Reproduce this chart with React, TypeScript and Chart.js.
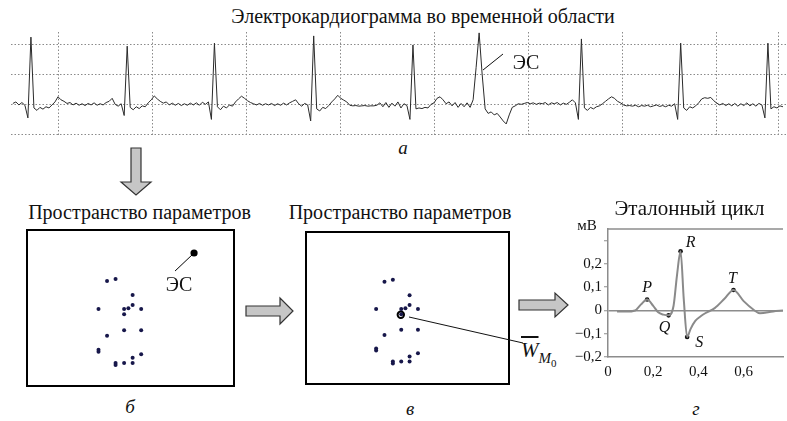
import React, { useEffect, useRef } from "react";
import { Chart, registerables } from "chart.js";

Chart.register(...registerables);

const SERIF = "'Liberation Serif', 'DejaVu Serif', 'Noto Serif', 'Times New Roman', serif";

// ---- Panel а: ECG in the time domain ----
const ecgStartMs = -96;
const ecgStepMs = 6.4;
const ecgValues = [
  0.03, 0.08, -0.02, 0.06, -0.03, -0.45, 2.23, -0.12, -0.2, -0.1,
  -0.16, -0.08, -0.12, -0.02, 0.08, 0.25, 0.15, 0.1, 0.03, 0.06,
  -0.02, 0.04, -0.03, 0.02, -0.04, 0.03, -0.02, 0.05, -0.03, 0.02,
  -0.02, 0.06, 0.1, 0.2, 0.0, -0.06, 0.02, -0.37, 1.93, -0.1,
  -0.18, -0.08, -0.14, -0.05, -0.08, 0.05, 0.15, 0.28, 0.18, 0.1,
  0.04, 0.08, -0.02, 0.04, -0.03, 0.03, -0.04, 0.02, -0.03, 0.04,
  -0.02, 0.05, -0.03, 0.07, 0.0, 0.08, -0.5, 2.03, -0.08, -0.18,
  -0.06, -0.12, -0.02, -0.06, 0.08, 0.18, 0.27, 0.2, 0.12, 0.06,
  0.02, -0.02, 0.03, -0.03, 0.02, -0.02, 0.03, -0.04, 0.02, -0.03,
  0.04, -0.02, 0.05, 0.1, 0.15, 0.02, -0.06, 0.03, -0.02, -0.55,
  2.27, -0.15, -0.22, -0.1, -0.14, -0.04, 0.08, 0.18, 0.3, 0.2,
  0.14, 0.08, -0.03, -0.05, -0.04, -0.06, -0.05, -0.04, -0.06, -0.05,
  -0.05, -0.03, 0.05, -0.08, 0.06, -0.1, 0.04, -0.06, 0.08, -0.12,
  0.02, -0.04, -0.5, 1.97, -0.15, -0.12, -0.14, -0.1, -0.12, 0.0,
  0.05, 0.2, 0.25, 0.15, 0.02, 0.08, -0.05, 0.06, -0.1, 0.03,
  -0.08, 0.05, -0.1, 0.15, 1.23, 2.37, 1.0, -0.15, -0.3, -0.25,
  -0.35, -0.3, -0.42, -0.55, -0.65, -0.35, -0.1, -0.05, 0.02, 0.0,
  0.03, 0.06, 0.02, 0.05, 0.0, 0.04, 0.02, 0.06, -0.02, 0.05,
  0.02, 0.06, -0.02, 0.04, 0.0, 0.07, 0.15, 0.05, -0.5, 2.17,
  -0.12, -0.2, -0.1, -0.15, -0.08, -0.05, 0.02, 0.1, 0.18, 0.25,
  0.2, 0.1, 0.05, -0.02, -0.05, -0.04, -0.06, -0.03, -0.08, -0.04,
  -0.06, -0.03, -0.08, -0.05, -0.02, -0.07, -0.04, -0.08, -0.03, -0.06,
  0.02, -0.5, 2.03, -0.12, -0.2, -0.08, -0.12, -0.05, 0.05, 0.18,
  0.22, 0.2, 0.23, 0.12, 0.04, -0.02, 0.03, -0.04, 0.02, -0.05,
  0.03, -0.06, 0.02, -0.04, 0.05, -0.05, 0.02, -0.06, 0.03, -0.02,
  -0.45, 2.03, -0.15, -0.08, -0.12, -0.05, -0.08,
];
const ecgGridMs = [0, 200, 400, 600, 800, 1000, 1200, 1400, 1532];
const ecgGridMv = [-1, 0, 1, 2];

// ---- Panels б, в: parameter space ----
const cycleParamX = [2, 3, 5, 1, 4, 4.5, 5, 6, 4, 4, 6, 2, 1, 1, 6, 5, 5, 4, 3, 3];
const cycleParamY = [15.9, 16.2, 13.8, 11.7, 11.7, 11.8, 12.3, 11.7, 10.9, 8.5, 8.5, 7.7, 5.6, 5.3, 4.9, 4.4, 3.6, 3.6, 3.6, 3.3];
const esParamX = [12.2];
const esParamY = [20.1];
const centroidParamX = [3.95];
const centroidParamY = [10.8];

// ---- Panel г: reference cycle ----
const refTime = [0.04, 0.08, 0.12, 0.145, 0.173, 0.2, 0.222, 0.245, 0.268, 0.29, 0.305, 0.321, 0.335, 0.35, 0.365, 0.386, 0.41, 0.43, 0.472, 0.515, 0.555, 0.6, 0.644, 0.672, 0.73, 0.774];
const refValue = [-0.005, -0.005, 0.0, 0.025, 0.047, 0.02, -0.008, -0.018, -0.021, 0.02, 0.15, 0.254, 0.05, -0.114, -0.08, -0.045, -0.025, -0.012, 0.01, 0.05, 0.088, 0.04, 0.003, -0.012, -0.004, 0.0];
const waveNames = ["P", "Q", "R", "S", "T"];
const waveTime = [0.173, 0.268, 0.321, 0.35, 0.555];
const waveValue = [0.047, -0.021, 0.254, -0.114, 0.088];
const refXTicks = [0, 0.2, 0.4, 0.6];
const refXLabels = ["0", "0,2", "0,4", "0,6"];
const refYTicks = [-0.2, -0.1, 0, 0.1, 0.2, 0.3];
const refYLabels = ["\u22120,2", "\u22120,1", "0", "0,1", "0,2", ""];

const toPoints = (xs: number[], ys: number[]) => xs.map((x, i) => ({ x, y: ys[i] }));

function makeParamChart(canvas: HTMLCanvasElement, withEs: boolean) {
  const datasets: any[] = [
    {
      data: toPoints(cycleParamX, cycleParamY),
      pointRadius: 2,
      pointBackgroundColor: "#17174a",
      pointBorderWidth: 0,
      showLine: false,
    },
  ];
  if (withEs) {
    datasets.push({
      data: toPoints(esParamX, esParamY),
      pointRadius: 3.6,
      pointBackgroundColor: "#000",
      pointBorderWidth: 0,
      showLine: false,
    });
  } else {
    datasets.push({
      data: toPoints(centroidParamX, centroidParamY),
      pointRadius: 3.2,
      pointBackgroundColor: "#fff",
      pointBorderColor: "#000",
      pointBorderWidth: 2,
      showLine: false,
    });
  }
  const framePlugin = {
    id: "frame",
    afterDraw(chart: any) {
      const { ctx, chartArea } = chart;
      ctx.save();
      ctx.strokeStyle = "#000";
      ctx.lineWidth = 2;
      ctx.strokeRect(chartArea.left + 1, chartArea.top + 1, chartArea.width - 2, chartArea.height - 2);
      if (withEs) {
        const p = chart.getDatasetMeta(1).data[0];
        ctx.lineWidth = 1;
        ctx.beginPath();
        ctx.moveTo(p.x, p.y);
        ctx.lineTo(p.x - 19, p.y + 18);
        ctx.stroke();
        ctx.fillStyle = "#111";
        ctx.font = `20px ${SERIF}`;
        ctx.textAlign = "center";
        ctx.textBaseline = "middle";
        ctx.fillText("ЭС", p.x - 15, p.y + 33);
      }
      ctx.restore();
    },
  };
  return new Chart(canvas, {
    type: "scatter",
    data: { datasets },
    options: {
      animation: false,
      responsive: false,
      maintainAspectRatio: false,
      layout: { padding: 0 },
      plugins: { legend: { display: false }, tooltip: { enabled: false } },
      scales: {
        x: { type: "linear", min: -7.5, max: 17, display: false },
        y: { type: "linear", min: 0, max: 23.7, display: false },
      },
    },
    plugins: [framePlugin],
  } as any);
}

export default function App() {
  const ecgRef = useRef<HTMLCanvasElement>(null);
  const bRef = useRef<HTMLCanvasElement>(null);
  const vRef = useRef<HTMLCanvasElement>(null);
  const gRef = useRef<HTMLCanvasElement>(null);

  useEffect(() => {
    const charts: Chart[] = [];

    charts.push(
      new Chart(ecgRef.current!, {
        type: "line",
        data: {
          datasets: [
            {
              data: ecgValues.map((v, i) => ({ x: ecgStartMs + i * ecgStepMs, y: v })),
              borderColor: "#2a2a2a",
              borderWidth: 1,
              pointRadius: 0,
              tension: 0,
            },
          ],
        },
        options: {
          animation: false,
          responsive: false,
          maintainAspectRatio: false,
          layout: { padding: 0 },
          plugins: { legend: { display: false }, tooltip: { enabled: false } },
          scales: {
            x: {
              type: "linear",
              min: -100,
              max: 1551,
              afterBuildTicks: (s: any) => {
                s.ticks = ecgGridMs.map((value) => ({ value }));
              },
              ticks: { display: false },
              grid: { drawTicks: false, color: "#8a8a8a", lineWidth: 1 },
              border: { display: false, dash: [1.5, 2] },
            },
            y: {
              type: "linear",
              min: -1.05,
              max: 2.4,
              afterBuildTicks: (s: any) => {
                s.ticks = ecgGridMv.map((value) => ({ value }));
              },
              ticks: { display: false },
              grid: { drawTicks: false, color: "#8a8a8a", lineWidth: 1 },
              border: { display: false, dash: [1.5, 2] },
            },
          },
        },
      } as any)
    );

    charts.push(makeParamChart(bRef.current!, true));
    charts.push(makeParamChart(vRef.current!, false));

    const labelOffsets: Record<string, [number, number]> = {
      P: [0, -12],
      Q: [-4, 12],
      R: [10, -9],
      S: [12, 6],
      T: [-1, -11],
    };
    const refPlugin = {
      id: "refDecor",
      afterDraw(chart: any) {
        const { ctx, chartArea } = chart;
        ctx.save();
        ctx.strokeStyle = "#8c8c8c";
        ctx.lineWidth = 1.5;
        ctx.beginPath();
        ctx.moveTo(chartArea.left, chartArea.top);
        ctx.lineTo(chartArea.right, chartArea.top);
        ctx.stroke();
        const meta = chart.getDatasetMeta(1);
        ctx.fillStyle = "#111";
        ctx.font = `italic 16px ${SERIF}`;
        ctx.textAlign = "center";
        ctx.textBaseline = "middle";
        meta.data.forEach((el: any, i: number) => {
          const name = waveNames[i];
          const off = labelOffsets[name];
          ctx.fillText(name, el.x + off[0], el.y + off[1]);
        });
        ctx.restore();
      },
    };

    charts.push(
      new Chart(gRef.current!, {
        type: "line",
        data: {
          datasets: [
            {
              data: toPoints(refTime, refValue),
              borderColor: "#8a8a8a",
              borderWidth: 2,
              pointRadius: 0,
              cubicInterpolationMode: "monotone",
            },
            {
              data: toPoints(waveTime, waveValue),
              showLine: false,
              pointRadius: 2.3,
              pointBackgroundColor: "#111",
              pointBorderWidth: 0,
            },
          ],
        },
        options: {
          animation: false,
          responsive: false,
          maintainAspectRatio: false,
          layout: { padding: { top: 0, right: 0, left: 0, bottom: 0 } },
          plugins: { legend: { display: false }, tooltip: { enabled: false } },
          scales: {
            x: {
              type: "linear",
              min: 0,
              max: 0.774,
              afterBuildTicks: (s: any) => {
                s.ticks = refXTicks.map((value) => ({ value }));
              },
              afterFit: (s: any) => {
                s.height = 28;
              },
              ticks: {
                callback: (_v: any, i: number) => refXLabels[i],
                font: { family: SERIF, size: 15 },
                color: "#111",
                padding: 6,
                maxRotation: 0,
              },
              grid: { drawTicks: false, color: "rgba(0,0,0,0)" },
              border: { display: true, color: "#8c8c8c", width: 1.5 },
            },
            y: {
              type: "linear",
              min: -0.2,
              max: 0.35,
              afterBuildTicks: (s: any) => {
                s.ticks = refYTicks.map((value) => ({ value }));
              },
              afterFit: (s: any) => {
                s.width = 48;
              },
              ticks: {
                callback: (_v: any, i: number) => refYLabels[i],
                font: { family: SERIF, size: 15 },
                color: "#111",
                padding: 2,
              },
              grid: {
                color: (c: any) => (c.tick && c.tick.value === 0 ? "#8c8c8c" : "rgba(0,0,0,0)"),
                lineWidth: 1.5,
                tickColor: "#8c8c8c",
                tickLength: 4,
                tickWidth: 1,
              },
              border: { display: true, color: "#8c8c8c", width: 1.5 },
            },
          },
        },
        plugins: [refPlugin],
      } as any)
    );

    return () => charts.forEach((c) => c.destroy());
  }, []);

  const abs = (left: number, top: number, w: number, h: number): React.CSSProperties => ({
    position: "absolute",
    left,
    top,
    width: w,
    height: h,
    display: "block",
  });

  const text = (
    x: number,
    y: number,
    content: React.ReactNode,
    extra: React.CSSProperties = {}
  ) => (
    <div
      style={{
        position: "absolute",
        left: x,
        top: y,
        transform: "translate(-50%, -50%)",
        whiteSpace: "nowrap",
        fontFamily: SERIF,
        fontSize: 20,
        lineHeight: 1,
        color: "#111",
        ...extra,
      }}
    >
      {content}
    </div>
  );

  return (
    <div
      style={{
        position: "fixed",
        left: 0,
        top: 0,
        width: 787,
        height: 421,
        background: "#fff",
        overflow: "hidden",
      }}
    >
      <canvas ref={ecgRef} width={776} height={104} style={abs(11, 32, 776, 104)} />
      <canvas ref={bRef} width={217} height={166} style={abs(22, 225, 217, 166)} />
      <canvas ref={vRef} width={217} height={166} style={abs(299, 225, 217, 166)} />
      <canvas ref={gRef} width={227} height={167} style={abs(560, 218, 227, 167)} />

      {text(423, 16, "Электрокардиограмма во временной области")}
      {text(403, 147, "а", { fontStyle: "italic", fontSize: 19 })}
      {text(526, 62, "ЭС")}
      {text(139.5, 212, "Пространство параметров")}
      {text(400, 212, "Пространство параметров")}
      {text(689.5, 208, "Эталонный цикл", { fontSize: 21 })}
      {text(587, 225, "мВ", { fontSize: 15 })}
      {text(130, 406, "б", { fontStyle: "italic", fontSize: 19 })}
      {text(410, 408, "в", { fontStyle: "italic", fontSize: 19 })}
      {text(696, 408, "г", { fontStyle: "italic", fontSize: 19 })}

      <div
        style={{
          position: "absolute",
          left: 521,
          top: 340,
          fontFamily: SERIF,
          fontStyle: "italic",
          fontSize: 21,
          lineHeight: 1,
          color: "#111",
          whiteSpace: "nowrap",
        }}
      >
        <span style={{ textDecoration: "overline" }}>W</span>
        <span style={{ fontSize: 15, position: "relative", top: 6 }}>M</span>
        <span style={{ fontSize: 11, fontStyle: "normal", position: "relative", top: 10 }}>0</span>
      </div>

      <svg
        width={787}
        height={421}
        style={{ position: "absolute", left: 0, top: 0, pointerEvents: "none" }}
      >
        <g fill="#c6c6c6" stroke="#333" strokeWidth={1.2} strokeLinejoin="miter">
          <polygon points="131,148 141,148 141,182 151,182 136,195 121,182 131,182" />
          <polygon points="246,306 280,306 280,298 293,311 280,324 280,316 246,316" />
          <polygon points="519,300 555,300 555,293 568,305 555,317 555,310 519,310" />
        </g>
        <g stroke="#111" strokeWidth={1}>
          <line x1={483} y1={70} x2={503} y2={54} />
          <line x1={409} y1={317} x2={523} y2={343} />
        </g>
      </svg>
    </div>
  );
}
